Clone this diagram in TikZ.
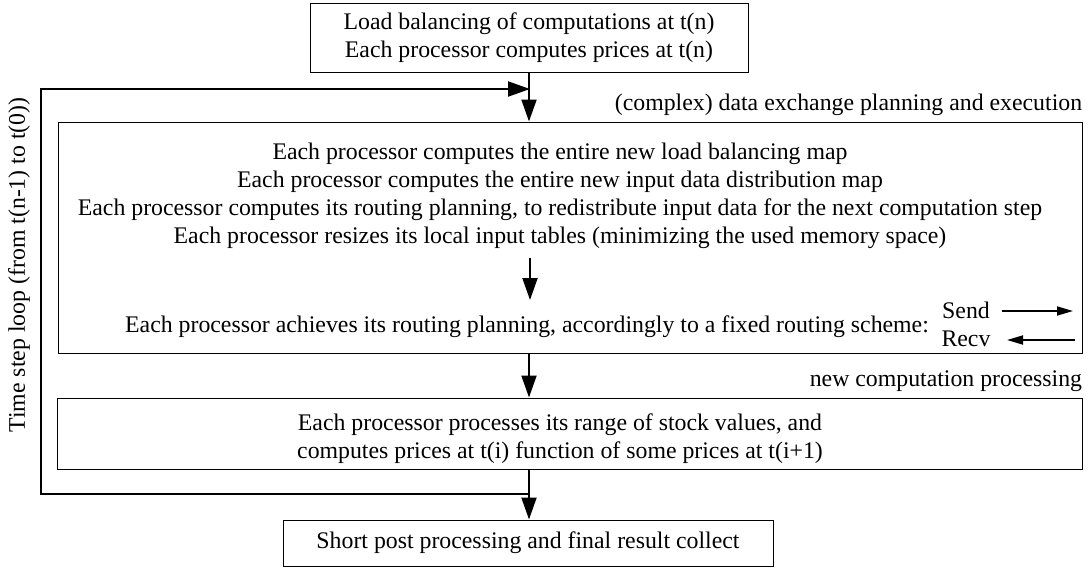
\documentclass[tikz,border=0pt]{standalone}
\usepackage{fontspec}
\setmainfont{Liberation Serif}
\usetikzlibrary{arrows.meta,positioning}
\newcommand{\mainsize}{\fontsize{11.9}{14}\selectfont}
\tikzset{
  stepbox/.style={draw, line width=0.5pt, align=center, inner sep=0pt,
    font=\mainsize},
  flowarr/.style={-{Triangle[length=11pt,width=7.5pt]}, line width=1pt},
}

\begin{document}
\begin{tikzpicture}[x=0.5pt, y=-0.5pt,
  lbl/.style={font=\mainsize, align=center, inner sep=0pt},
  smallarr/.style={-{Triangle[length=8pt,width=4.5pt]}, line width=0.9pt},
]
  \useasboundingbox (0,0) rectangle (1089,570);
  % boxes
  \node[stepbox, minimum width=219pt, minimum height=34.5pt] (start) at (529,37.5)
    {Load balancing of computations at t(n)\\Each processor computes prices at t(n)};
  \node[stepbox, minimum width=512pt, minimum height=115.5pt] (xchg) at (570,237.5) {};
  \node[stepbox, minimum width=512.5pt, minimum height=35.5pt] (compute) at (569.5,433.5) {};
  \node[stepbox, minimum width=245pt, minimum height=23pt] (final) at (528,543)
    {Short post processing and final result collect};
  % texts
  \node[lbl, anchor=south east] (xchglbl) at ([yshift=2.5pt]xchg.north east)
    {(complex) data exchange planning and execution};
  \node[lbl, anchor=south east] (complbl) at ([yshift=2.5pt]compute.north east)
    {new computation processing};
  \node[lbl] (plan) at (560,196)
    {Each processor computes the entire new load balancing map\\
     Each processor computes the entire new input data distribution map\\
     Each processor computes its routing planning, to redistribute input data for the next computation step\\
     Each processor resizes its local input tables (minimizing the used memory space)};
  \node[lbl] (achieve) at (527,327)
    {Each processor achieves its routing planning, accordingly to a fixed routing scheme:};
  \node[lbl] (send) at (966,310) {Send};
  \node[lbl] (recv) at (966,339) {Recv};
  \node[lbl] (comptext) at (560,439)
    {Each processor processes its range of stock values, and\\
     computes prices at t(i) function of some prices at t(i+1)};
  \node[lbl, rotate=90] (looplbl) at (19,265) {Time step loop (from t(n-1) to t(0))};
  % connectors
  \coordinate (plantop) at (530,258);
  \coordinate (planbot) at (530,300);
  \coordinate (sendend) at (1073,311);
  \coordinate (recvbeg) at (1075,340);
  \coordinate (looptop) at (530,89);
  \coordinate (loopbot) at (530,494);
  \draw[flowarr] (start.south) -- (start.south |- xchg.north);
  \draw[flowarr] (plantop) -- (planbot);
  \draw[flowarr] (start.south |- xchg.south) -- (start.south |- compute.north);
  \draw[flowarr] (start.south |- compute.south) -- (start.south |- final.north);
  \draw[smallarr] ([xshift=18pt]send.center |- sendend) -- (sendend);
  \draw[smallarr] (recvbeg) -- ([xshift=20.5pt]recv.center |- recvbeg);
  \draw[flowarr] (loopbot) -- (41,494) -- (41,89) -- (looptop);
\end{tikzpicture}
\end{document}
